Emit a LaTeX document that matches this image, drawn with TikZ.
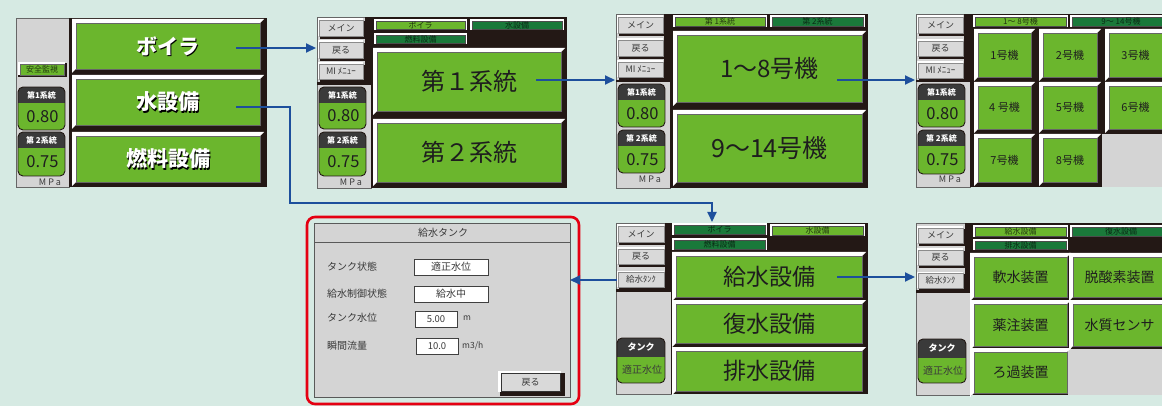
\documentclass[tikz,border=0pt]{standalone}
\usepackage{fontspec}
\setmainfont{Noto Sans CJK JP}
\usetikzlibrary{arrows.meta}
\definecolor{bgc}{HTML}{D6EAE3}
\definecolor{grn}{HTML}{6BB62D}
\definecolor{dgrn}{HTML}{1A793A}
\definecolor{pgray}{HTML}{D4D4D4}
\definecolor{bgray}{HTML}{D9D9D9}
\definecolor{darkc}{HTML}{231815}
\definecolor{hdrc}{HTML}{3A3A3A}
\definecolor{ablue}{HTML}{1D4F9C}
\definecolor{redc}{HTML}{E50012}
\definecolor{txtc}{HTML}{1E1E1E}
\definecolor{ltxt}{HTML}{3A3A3A}
\newcommand\fsz[1]{\fontsize{#1}{#1}\selectfont}
\tikzset{
  btnbox/.style={rectangle, inner sep=0pt, draw=black!60, line width=0.4pt, text=txtc},
  sbtnbox/.style={rectangle, inner sep=0pt, fill=bgray, draw=black!45, line width=0.4pt, text=ltxt, font=\fsz{9}},
  tabL/.style={rectangle, inner sep=0pt, fill=grn, draw=black!70, line width=0.4pt, text=black!70!grn, font=\fsz{8}},
  tabD/.style={rectangle, inner sep=0pt, fill=dgrn, draw=black!70, line width=0.4pt, text=black!65!dgrn, font=\fsz{8}},
  wtxt/.style={text=white, font=\fsz{21}\bfseries},
  stxt/.style={text=black, font=\fsz{21}\bfseries},
  hdrtxt/.style={text=white, font=\fsz{8}\bfseries, inner sep=0pt},
  valtxt/.style={text=txtc, font=\fsz{16.5}, inner sep=0pt},
  mpatxt/.style={text=ltxt, font=\fsz{9}, inner sep=0pt},
  dlgtxt/.style={text=ltxt, font=\fsz{10}, inner sep=0pt},
  vbox/.style={rectangle, inner sep=0pt, fill=white, draw=black!75, line width=0.6pt, text=ltxt, font=\fsz{10}},
  conn/.style={draw=ablue, line width=2pt, -{Triangle[length=10pt,width=9pt]}},
}
% big bevel button: name x0 y0 x1 y1 color text
\newcommand\Btn[7]{%
  \fill[white] ({#2-4},{#3-4}) -- ({#4+4},{#3-4}) -- (#4,#3) -- (#2,#5) -- ({#2-4},{#5+4}) -- cycle;
  \node[btnbox, fill=#6, minimum width={(#4-#2)*1pt}, minimum height={(#5-#3)*1pt}] (#1) at ({(#2+#4)/2},{(#3+#5)/2}) {#7};
}
% small gray button: name x0 y0 x1 y1 text
\newcommand\SBtn[6]{%
  \fill[darkc] ({#2+1},{#3+1}) rectangle ({#4+3},{#5+3});
  \fill[white] ({#2-1.5},{#3-1.5}) rectangle (#4,#5);
  \node[sbtnbox, minimum width={(#4-#2)*1pt}, minimum height={(#5-#3)*1pt}] (#1) at ({(#2+#4)/2},{(#3+#5)/2}) {#6};
}
% tab: name x0 y0 x1 y1 style text
\newcommand\Tab[7]{%
  \fill[white] ({#2-2},{#3-2}) rectangle ({#4+2},{#5+1});
  \node[#6, minimum width={(#4-#2)*1pt}, minimum height={(#5-#3)*1pt}] (#1) at ({(#2+#4)/2},{(#3+#5)/2}) {#7};
}
% rounded display: name x0 y0 x1 y1 yheader header value valuestyle
\newcommand\Disp[9]{%
  \begin{scope}
    \clip[rounded corners=5pt] (#2,#3) rectangle (#4,#5);
    \fill[grn] (#2,#3) rectangle (#4,#5);
    \fill[hdrc] (#2,#3) rectangle (#4,#6);
  \end{scope}
  \draw[darkc, line width=0.9pt, rounded corners=5pt] (#2,#3) rectangle (#4,#5);
  \node[hdrtxt] (#1h) at ({(#2+#4)/2},{(#3+#6)/2}) {#7};
  \node[#9] (#1v) at ({(#2+#4)/2+1},{(#6+#5)/2}) {#8};
}
\begin{document}
\begin{tikzpicture}[x=1pt,y=-1pt]
\useasboundingbox (0,0) rectangle (1162,406);
\fill[bgc] (0,0) rectangle (1162,406);

%================ Panel 1
\fill[pgray] (16,18) rectangle (69,187);
\draw[black!60, line width=0.8pt] (16,18) rectangle (69,187);
\fill[darkc] (69,18) rectangle (267,187);
\Btn{p1a}{76}{23}{260}{69}{grn}{}
\Btn{p1b}{76}{79}{260}{125}{grn}{}
\Btn{p1c}{76}{136}{260}{182}{grn}{}
\node[stxt, xshift=1.3pt, yshift=-1.3pt] (p1as) at (p1a) {ボイラ};
\node[wtxt] (p1at) at (p1a) {ボイラ};
\node[stxt, xshift=1.3pt, yshift=-1.3pt] (p1bs) at (p1b) {水設備};
\node[wtxt] (p1bt) at (p1b) {水設備};
\node[stxt, xshift=1.3pt, yshift=-1.3pt] (p1cs) at (p1c) {燃料設備};
\node[wtxt] (p1ct) at (p1c) {燃料設備};
\fill[darkc] (18,63) rectangle (67,77);
\fill[white] (17.5,62.5) rectangle (65,75);
\node[rectangle, inner sep=0pt, fill=grn, draw=black!60, line width=0.4pt, minimum width=44pt, minimum height=10.5pt, text=black!70!grn, font=\fsz{8}] (p1s) at (42,69.5) {安全監視};
\Disp{p1d1}{18}{87}{65}{130}{103}{第1系統}{0.80}{valtxt}
\Disp{p1d2}{18}{132}{65}{176}{148}{第 2系統}{0.75}{valtxt}
\node[mpatxt] (p1m) at (50,182) {M\hspace{2pt}P\hspace{2pt}a};

%================ Panel 2
\fill[pgray] (317,17) rectangle (371,188);
\draw[black!60, line width=0.8pt] (317,17) rectangle (371,188);
\fill[darkc] (365,17) rectangle (371,85);
\fill[darkc] (317,82) rectangle (371,85);
\fill[darkc] (371,17) rectangle (567,188);
\SBtn{p2m}{319}{20}{363}{36}{メイン}
\SBtn{p2r}{319}{42}{363}{58}{戻る}
\SBtn{p2i}{319}{64}{363}{79}{MI ﾒﾆｭｰ}
\Disp{p2d1}{319}{87}{366}{129}{103}{第1系統}{0.80}{valtxt}
\Disp{p2d2}{319}{132}{366}{176}{148}{第 2系統}{0.75}{valtxt}
\node[mpatxt] (p2mp) at (351,182) {M\hspace{2pt}P\hspace{2pt}a};
\Tab{p2t1}{376}{21}{465}{29}{tabL}{ボイラ}
\Tab{p2t2}{472}{21}{562}{29}{tabD}{水設備}
\Tab{p2t3}{376}{35}{465}{43}{tabD}{燃料設備}
\Btn{p2a}{377}{52}{561}{111}{grn}{\fsz{24}第１系統}
\Btn{p2b}{377}{123}{561}{182}{grn}{\fsz{24}第２系統}

%================ Panel 3
\fill[pgray] (616,14) rectangle (670,188);
\draw[black!60, line width=0.8pt] (616,14) rectangle (670,188);
\fill[darkc] (664,14) rectangle (670,82);
\fill[darkc] (616,80) rectangle (670,82);
\fill[darkc] (670,14) rectangle (868,188);
\SBtn{p3m}{618}{17}{663}{33}{メイン}
\SBtn{p3r}{618}{40}{663}{56}{戻る}
\SBtn{p3i}{618}{62}{663}{77}{MI ﾒﾆｭｰ}
\Disp{p3d1}{618}{84}{665}{127}{100}{第1系統}{0.80}{valtxt}
\Disp{p3d2}{618}{130}{665}{173}{146}{第 2系統}{0.75}{valtxt}
\node[mpatxt] (p3mp) at (650,179) {M\hspace{2pt}P\hspace{2pt}a};
\Tab{p3t1}{675}{17}{765}{26}{tabL}{第 1系統}
\Tab{p3t2}{772}{17}{863}{26}{tabD}{第 2系統}
\Btn{p3a}{677}{35}{862}{102}{grn}{\fsz{24}1～8号機}
\Btn{p3b}{677}{114}{862}{182}{grn}{\fsz{25}9～14号機}

%================ Panel 4
\fill[pgray] (916,14) rectangle (970,187);
\draw[black!60, line width=0.8pt] (916,14) rectangle (970,187);
\fill[darkc] (964,14) rectangle (970,82);
\fill[darkc] (916,80) rectangle (970,82);
\fill[darkc] (970,14) rectangle (1170,187);
\SBtn{p4m}{918}{17}{963}{33}{メイン}
\SBtn{p4r}{918}{41}{963}{56}{戻る}
\SBtn{p4i}{918}{63}{963}{78}{MI ﾒﾆｭｰ}
\Disp{p4d1}{918}{84}{965}{127}{100}{第1系統}{0.80}{valtxt}
\Disp{p4d2}{918}{130}{965}{174}{146}{第 2系統}{0.75}{valtxt}
\node[mpatxt] (p4mp) at (950,179) {M\hspace{2pt}P\hspace{2pt}a};
\Tab{p4t1}{975}{17}{1066}{26}{tabL}{1～ 8号機}
\Tab{p4t2}{1072}{17}{1170}{26}{tabD}{9～ 14号機}
\fill[pgray] (1102,134) rectangle (1170,187);
\Btn{g1}{978}{33}{1031}{77}{grn}{\fsz{11}1号機}
\Btn{g2}{1043}{33}{1097}{77}{grn}{\fsz{11}2号機}
\Btn{g3}{1109}{33}{1162}{77}{grn}{\fsz{11}3号機}
\Btn{g4}{978}{86}{1031}{129}{grn}{\fsz{11}4 号機}
\Btn{g5}{1043}{86}{1097}{129}{grn}{\fsz{11}5号機}
\Btn{g6}{1109}{86}{1162}{129}{grn}{\fsz{11}6号機}
\Btn{g7}{978}{138}{1031}{182}{grn}{\fsz{11}7号機}
\Btn{g8}{1043}{138}{1097}{182}{grn}{\fsz{11}8号機}

%================ Panel 5 (dialog)
\draw[redc, line width=2.6pt, rounded corners=8pt, fill=bgc] (307,217) rectangle (579,404);
\fill[pgray] (314,223) rectangle (570,397);
\draw[black!65, line width=0.8pt] (314,223) rectangle (570,397);
\draw[black!65, line width=0.8pt] (314,242) -- (570,242);
\node[dlgtxt] (dlgt) at (443,232.5) {給水タンク};
\node[dlgtxt, anchor=west] (l1) at (327,267) {タンク状態};
\node[dlgtxt, anchor=west] (l2) at (327,294) {給水制御状態};
\node[dlgtxt, anchor=west] (l3) at (327,318) {タンク水位};
\node[dlgtxt, anchor=west] (l4) at (327,346) {瞬間流量};
\node[vbox, minimum width=74pt, minimum height=16pt] (v1) at (451,267) {適正水位};
\node[vbox, minimum width=74pt, minimum height=16pt] (v2) at (451,294) {給水中};
\node[vbox, minimum width=42pt, minimum height=16pt] (v3) at (436,319) {\fsz{9.5}5.00};
\node[vbox, minimum width=42pt, minimum height=16pt] (v4) at (437,346) {\fsz{9.5}10.0};
\node[dlgtxt, anchor=west, font=\fsz{8.5}] (u3) at (463,318) {m};
\node[dlgtxt, anchor=west, font=\fsz{8.5}] (u4) at (462,346) {m3/h};
\fill[darkc] (500,373) rectangle (565,396);
\fill[white] (498,371) rectangle (561,392);
\node[rectangle, inner sep=0pt, fill=bgray, draw=black!80, line width=0.6pt, minimum width=59pt, minimum height=18pt, text=ltxt, font=\fsz{9}] (dback) at (530.5,382.5) {戻る};

%================ Panel 6
\fill[pgray] (616,223) rectangle (671,394);
\draw[black!60, line width=0.8pt] (616,223) rectangle (671,394);
\fill[darkc] (665,223) rectangle (671,292);
\fill[darkc] (616,289) rectangle (671,292);
\fill[darkc] (671,223) rectangle (868,394);
\SBtn{p6m}{618}{226}{664}{242}{メイン}
\SBtn{p6r}{618}{249}{664}{264}{戻る}
\SBtn{p6k}{618}{272}{664}{287}{\fsz{8.5}給水ﾀﾝｸ}
\Disp{p6d}{617}{338}{665}{383}{357}{\fsz{9}タンク}{適正水位}{dlgtxt}
\Tab{p6t1}{674}{225}{765}{234}{tabD}{ボイラ}
\Tab{p6t2}{772}{226}{863}{235}{tabL}{水設備}
\Tab{p6t3}{674}{240}{765}{249}{tabD}{燃料設備}
\Btn{p6a}{676}{256}{862}{297}{grn}{\fsz{23}給水設備}
\Btn{p6b}{676}{304}{862}{343}{grn}{\fsz{23}復水設備}
\Btn{p6c}{676}{351}{862}{391}{grn}{\fsz{23}排水設備}

%================ Panel 7
\fill[pgray] (916,223) rectangle (971,395);
\draw[black!60, line width=0.8pt] (916,223) rectangle (971,395);
\fill[darkc] (965,223) rectangle (971,293);
\fill[darkc] (916,290) rectangle (971,293);
\fill[darkc] (971,223) rectangle (1170,395);
\SBtn{p7m}{918}{228}{963}{243}{メイン}
\SBtn{p7r}{918}{250}{963}{265}{戻る}
\SBtn{p7k}{918}{273}{963}{288}{\fsz{8.5}給水ﾀﾝｸ}
\Disp{p7d}{918}{339}{966}{383}{358}{\fsz{9}タンク}{適正水位}{dlgtxt}
\Tab{p7t1}{975}{227}{1066}{236}{tabL}{給水設備}
\Tab{p7t2}{1072}{227}{1170}{236}{tabD}{復水設備}
\Tab{p7t3}{975}{241}{1066}{249}{tabD}{排水設備}
\fill[pgray] (1068,349) rectangle (1170,395);
\Btn{h1}{974}{257}{1067}{297}{grn}{\fsz{14}軟水装置}
\Btn{h2}{1073}{257}{1166}{297}{grn}{\fsz{14}脱酸素装置}
\Btn{h3}{974}{304}{1067}{346}{grn}{\fsz{14}薬注装置}
\Btn{h4}{1073}{304}{1166}{346}{grn}{\fsz{14}水質センサ}
\Btn{h5}{974}{352}{1067}{393}{grn}{\fsz{14}ろ過装置}

%================ Connectors
\coordinate (c1s) at (236,48);  \coordinate (c1e) at (316,48);
\coordinate (c2s) at (536,80);  \coordinate (c2e) at (615,80);
\coordinate (c3s) at (837,80);  \coordinate (c3e) at (915,80);
\coordinate (c4s) at (236,107); \coordinate (c4m) at (290,203); \coordinate (c4e) at (712,222);
\coordinate (c5s) at (617,280); \coordinate (c5e) at (570,280);
\coordinate (c6s) at (837,277); \coordinate (c6e) at (915,277);
\draw[conn] (c1s) -- (c1e);
\draw[conn] (c2s) -- (c2e);
\draw[conn] (c3s) -- (c3e);
\draw[conn] (c4s) -| (c4m) -| (c4e);
\draw[conn] (c5s) -- (c5e);
\draw[conn] (c6s) -- (c6e);
\end{tikzpicture}
\end{document}
